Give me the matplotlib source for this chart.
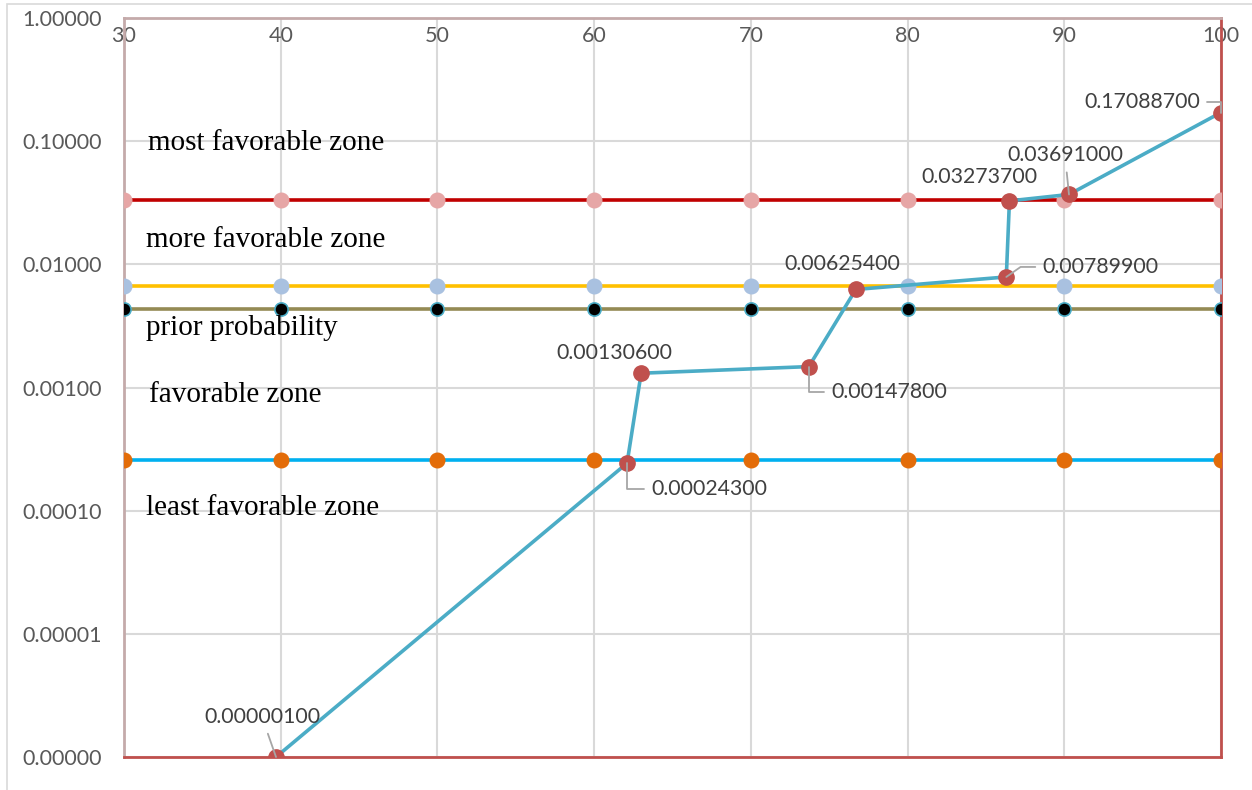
import matplotlib.pyplot as plt
from matplotlib.patches import Rectangle

# main series
px = [39.7, 62.1, 63.0, 73.7, 76.7, 86.3, 86.5, 90.3, 100]
py = [0.000001, 0.000243, 0.001306, 0.001478, 0.006254, 0.007899, 0.032737, 0.03691, 0.170887]

# zone boundaries
xs = [30, 40, 50, 60, 70, 80, 90, 100]
most_fav = 0.0332
more_fav = 0.00662
prior = 0.0043
least_fav = 0.000256

zone_names = ['most favorable zone', 'more favorable zone', 'prior probability',
              'favorable zone', 'least favorable zone']
zone_y = [0.0964, 0.0157, 0.00302, 0.000877, 0.000106]
zone_x = [31.5, 31.4, 31.4, 31.6, 31.4]

yticks = [1e-6, 1e-5, 1e-4, 1e-3, 1e-2, 1e-1, 1]
ytick_labels = ['0.00000', '0.00001', '0.00010', '0.00100', '0.01000', '0.10000', '1.00000']

# label offsets (pixels) and leader style for each point
offs = [(-14, 40), (82, -26), (-27, 20), (80, -25), (-14, 25), (94, 10), (-30, 24), (-4, 39), (-79, 11)]
leaders = ['arc3', 'angle,angleA=0,angleB=90,rad=0', None, 'angle,angleA=0,angleB=90,rad=0', None,
           'angle,angleA=0,angleB=35,rad=0', None, 'arc3', 'angle,angleA=0,angleB=90,rad=0']

plt.rcParams['font.family'] = ['Lato', 'DejaVu Sans']

fig = plt.figure(figsize=(12.52, 7.9), dpi=100)
ax = fig.add_axes([124/1252, 1-757/790, (1221-124)/1252, (757-18)/790])
fig.patches.append(Rectangle((7/1252, -0.1), 2, 1-4/790+0.1, transform=fig.transFigure,
                             fill=False, edgecolor='#d9d9d9', lw=1.2))

ax.set_yscale('log')
ax.set_xlim(30, 100)
ax.set_ylim(1e-6, 1)

ax.plot(xs, [most_fav]*len(xs), color='#c00000', lw=2.6, marker='o', ms=10.5,
        mfc='#e6a6a6', mec='#e6a6a6', zorder=3)
ax.plot(xs, [more_fav]*len(xs), color='#ffc000', lw=2.6, marker='o', ms=10.5,
        mfc='#a9c1e0', mec='#a9c1e0', zorder=3)
ax.plot(xs, [prior]*len(xs), color='#948a54', lw=2.6, marker='o', ms=9.5,
        mfc='black', mec='#4bacc6', mew=1.2, zorder=3)
ax.plot(xs, [least_fav]*len(xs), color='#00b0f0', lw=2.6, marker='o', ms=10.5,
        mfc='#e36c09', mec='#e36c09', zorder=3)

ax.plot(px, py, color='#4bacc6', lw=2.6, marker='o', ms=11, mfc='#c0504d', mec='#c0504d', zorder=4)

for x, y, (dx, dy), ls in zip(px, py, offs, leaders):
    ap = None
    if ls:
        ap = dict(arrowstyle='-', color='#a6a6a6', lw=1.3, shrinkA=3, shrinkB=0, connectionstyle=ls)
    ax.annotate('%.8f' % y, (x, y), xytext=(dx*0.72, dy*0.72), textcoords='offset points',
                ha='center', va='center', fontsize=15.3, color='#404040', arrowprops=ap, zorder=5)

for name, x, y in zip(zone_names, zone_x, zone_y):
    ax.text(x, y, name, fontsize=21, family='Liberation Serif', color='black', va='center', ha='left')

ax.set_xticks(xs)
ax.set_xticklabels([str(x) for x in xs])
ax.set_yticks(yticks)
ax.set_yticklabels(ytick_labels)
ax.minorticks_off()
ax.xaxis.tick_top()
ax.tick_params(axis='x', length=0, pad=-5.5, labelsize=15.5, labelcolor='#595959')
ax.tick_params(axis='y', length=0, pad=16, labelsize=15.5, labelcolor='#595959')
for lab in ax.get_xticklabels():
    lab.set_verticalalignment('top')

ax.grid(True, color='#d9d9d9', lw=1.5)
ax.set_axisbelow(True)
ax.spines['left'].set_color('#c4aaaa')
ax.spines['top'].set_color('#c4aaaa')
ax.spines['left'].set_linewidth(2)
ax.spines['top'].set_linewidth(2)
ax.spines['right'].set_color('#c0504d')
ax.spines['bottom'].set_color('#c0504d')
ax.spines['right'].set_linewidth(2)
ax.spines['bottom'].set_linewidth(2)

plt.savefig('out.png', dpi=100)
